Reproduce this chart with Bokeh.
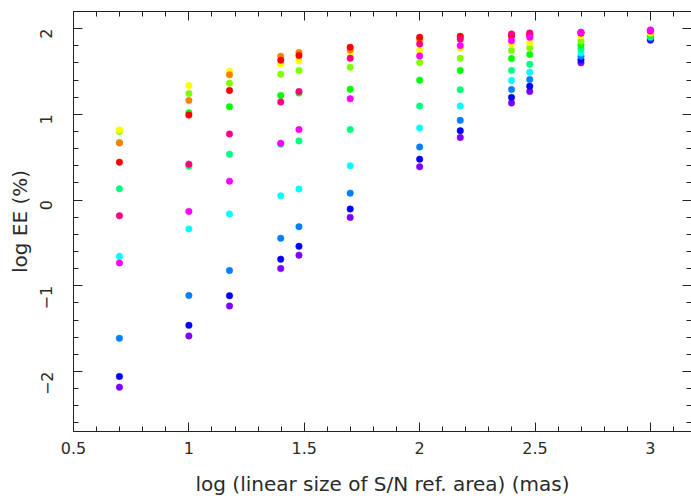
from bokeh.plotting import figure
from bokeh.models import Range1d, FixedTicker, LinearAxis
from bokeh.embed import file_html
from bokeh.resources import INLINE

# x: log of linear size of S/N reference area (mas)
log_size = [0.699, 1.0, 1.176, 1.398, 1.477, 1.699, 2.0, 2.176, 2.398, 2.477, 2.699, 3.0]

# y: log EE (%) for each series
ee_violet = [-2.183, -1.585, -1.236, -0.799, -0.643, -0.202, 0.388, 0.729, 1.132, 1.267, 1.601, 1.865]
ee_blue = [-2.058, -1.461, -1.116, -0.690, -0.539, -0.105, 0.477, 0.810, 1.198, 1.329, 1.636, 1.875]
ee_azure = [-1.613, -1.113, -0.822, -0.446, -0.310, 0.081, 0.620, 0.930, 1.290, 1.407, 1.678, 1.890]
ee_cyan = [-0.655, -0.337, -0.163, 0.050, 0.128, 0.399, 0.841, 1.097, 1.395, 1.492, 1.717, 1.905]
ee_spring = [0.131, 0.395, 0.535, 0.650, 0.690, 0.822, 1.097, 1.287, 1.512, 1.585, 1.764, 1.915]
ee_green = [0.670, 1.020, 1.089, 1.221, 1.248, 1.294, 1.399, 1.512, 1.651, 1.698, 1.810, 1.927]
ee_chartreuse = [0.800, 1.244, 1.364, 1.469, 1.512, 1.550, 1.605, 1.655, 1.744, 1.775, 1.853, 1.940]
ee_yellow = [0.817, 1.337, 1.504, 1.585, 1.624, 1.713, 1.748, 1.767, 1.822, 1.837, 1.919, 1.955]
ee_orange = [0.667, 1.163, 1.461, 1.678, 1.721, 1.750, 1.872, 1.900, 1.915, 1.925, 1.945, 1.970]
ee_red = [0.442, 0.992, 1.279, 1.632, 1.686, 1.783, 1.899, 1.911, 1.919, 1.930, 1.950, 1.975]
ee_rose = [-0.183, 0.419, 0.771, 1.143, 1.267, 1.655, 1.822, 1.876, 1.938, 1.950, 1.955, 1.980]
ee_magenta = [-0.733, -0.132, 0.221, 0.663, 0.822, 1.182, 1.682, 1.802, 1.860, 1.899, 1.957, 1.985]

series = [
    (ee_violet, "#8000ff"),
    (ee_blue, "#0000ff"),
    (ee_azure, "#0080ff"),
    (ee_cyan, "#00ffff"),
    (ee_spring, "#00ff80"),
    (ee_green, "#00ff00"),
    (ee_chartreuse, "#80ff00"),
    (ee_yellow, "#ffff00"),
    (ee_orange, "#ff8000"),
    (ee_red, "#ff0000"),
    (ee_rose, "#ff0080"),
    (ee_magenta, "#ff00ff"),
]

x_major = [0.5, 1, 1.5, 2, 2.5, 3]
x_labels = ["0.5", "1", "1.5", "2", "2.5", "3"]
y_major = [-2, -1, 0, 1, 2]
y_labels = ["\u22122", "\u22121", "0", "1", "2"]
x_title = "log (linear size of S/N ref. area) (mas)"
y_title = "log EE (%)"

FONT = "DejaVu Sans"
TXT = "#2a2a2a"
LINE = "#222222"

p = figure(width=691, height=503, output_backend="svg", toolbar_location=None,
           x_range=Range1d(0.5, 3.178), y_range=Range1d(-2.7, 2.2),
           min_border_left=73, min_border_right=0, min_border_top=11, min_border_bottom=72,
           background_fill_color="white", border_fill_color="white")
p.title.visible = False
p.outline_line_color = None
p.grid.visible = False

for vals, col in series:
    p.scatter(log_size, vals, size=6.5, fill_color=col, line_color=col, line_width=0.5)

x_minor = [round(0.5 + 0.1 * i, 2) for i in range(28)]
y_minor = [round(-2.6 + 0.2 * i, 2) for i in range(25)]

bottom = p.below[0]
left = p.left[0]
top = LinearAxis()
right = LinearAxis()
p.add_layout(top, "above")
p.add_layout(right, "right")

for ax in [bottom, top]:
    ax.ticker = FixedTicker(ticks=x_major, minor_ticks=x_minor)
for ax in [left, right]:
    ax.ticker = FixedTicker(ticks=y_major, minor_ticks=y_minor)

for ax in [bottom, left, top, right]:
    ax.major_tick_in = 9
    ax.major_tick_out = 0
    ax.minor_tick_in = 5
    ax.minor_tick_out = 0
    ax.axis_line_color = LINE
    ax.major_tick_line_color = LINE
    ax.minor_tick_line_color = LINE
    ax.axis_line_width = 1
    ax.major_label_text_font = FONT
    ax.major_label_text_color = TXT
    ax.major_label_text_font_size = "16px"
    ax.axis_label_text_font = FONT
    ax.axis_label_text_color = TXT
    ax.axis_label_text_font_size = "20px"
    ax.axis_label_text_font_style = "normal"

top.major_label_overrides = {t: "" for t in x_major}
top.major_label_standoff = 0
top.major_label_text_font_size = "1px"
right.major_label_overrides = {t: "" for t in y_major}
right.major_label_standoff = 0
right.major_label_text_font_size = "1px"
right.axis_line_color = None

bottom.axis_label = x_title
bottom.major_label_standoff = 10
bottom.axis_label_standoff = 15
bottom.major_label_overrides = dict(zip(x_major, x_labels))

left.axis_label = y_title
left.major_label_orientation = 1.5708
left.major_label_standoff = 27
left.axis_label_standoff = 0
left.major_label_overrides = dict(zip(y_major, y_labels))

open("out.html", "w").write(file_html(p, INLINE))
